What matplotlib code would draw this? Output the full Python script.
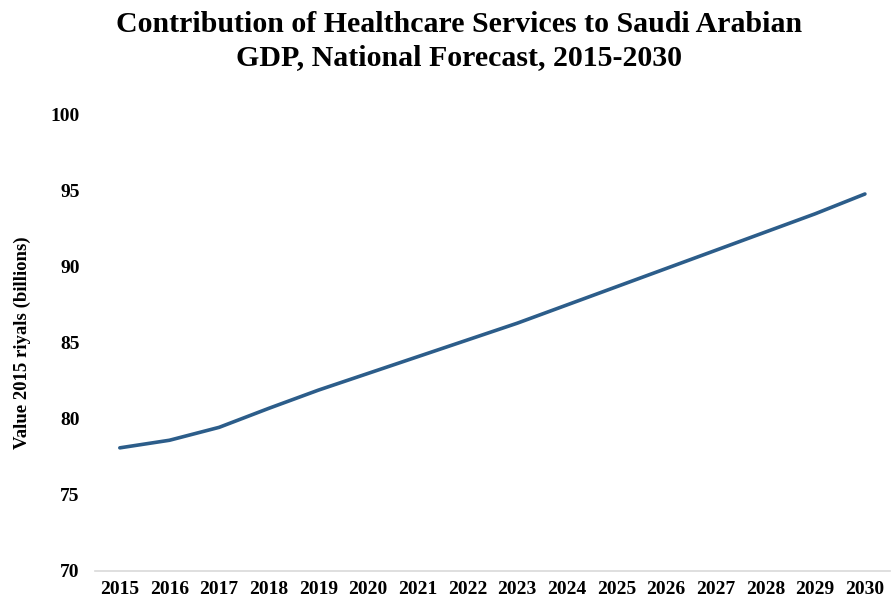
import matplotlib
matplotlib.use("Agg")
import matplotlib.pyplot as plt

# data
years = list(range(2015, 2031))
gdp_contribution = [78.1, 78.6, 79.45, 80.7, 81.9, 83.0, 84.1, 85.2,
                    86.3, 87.5, 88.7, 89.9, 91.1, 92.3, 93.5, 94.8]
y_ticks = [70, 75, 80, 85, 90, 95, 100]

plt.rcParams["font.family"] = ["Liberation Serif", "DejaVu Serif"]
plt.rcParams["font.weight"] = "bold"

fig = plt.figure(figsize=(8.91, 6.06), dpi=100)
ax = fig.add_axes([0.1066, 0.0578, 0.892, 0.7525])

ax.plot(years, gdp_contribution, color="#2c5d8a", linewidth=2.6,
        solid_capstyle="round")

ax.set_xlim(2014.5, 2030.5)
ax.set_ylim(70, 100)
ax.set_yticks(y_ticks)
ax.set_xticks(years)
ax.set_xticklabels([str(y) for y in years], fontsize=14, fontweight="bold")
ax.set_yticklabels([str(v) for v in y_ticks], fontsize=14, fontweight="bold")
ax.tick_params(axis="both", length=0)
ax.tick_params(axis="y", pad=11)
ax.tick_params(axis="x", pad=7)

for side in ["top", "right", "left"]:
    ax.spines[side].set_visible(False)
ax.spines["bottom"].set_color("#d9d9d9")
ax.spines["bottom"].set_linewidth(1.2)

ax.set_ylabel("Value 2015 riyals (billions)", fontsize=13.5,
              fontweight="bold", labelpad=14)

fig.text(0.515, 0.982, "Contribution of Healthcare Services to Saudi Arabian\n"
         "GDP, National Forecast, 2015-2030",
         ha="center", va="top", fontsize=21.5, fontweight="bold",
         linespacing=1.3)

fig.savefig("out.png", dpi=100)
